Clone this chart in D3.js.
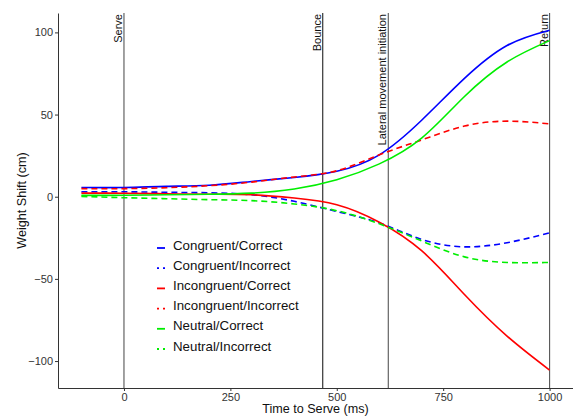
<!DOCTYPE html>
<html>
<head>
<meta charset="utf-8">
<script src="https://cdn.jsdelivr.net/npm/d3@7"></script>
<style>
  body { margin: 0; background: #fff; }
  svg { display: block; font-family: "Liberation Sans", Arial, sans-serif; }
  .axis text { fill: #333; font-size: 11px; }
  .axis path, .axis line { stroke: #333; }
</style>
</head>
<body>
<div id="chart"></div>
<script>
// time points (ms relative to serve)
const times = [-100, 0, 100, 200, 300, 400, 500, 600, 700, 800, 900, 1000];

// weight shift per condition
const congruentCorrect = [5.6, 5.6, 6.3, 7, 9.3, 11.7, 15.5, 25.5, 46.7, 72, 92, 101.3];
const congruentIncorrect = [3, 3, 2.7, 2.4, 1.2, -2.8, -9, -16, -26, -30.5, -28, -22];
const incongruentCorrect = [2.2, 2.1, 1.8, 1.5, 1.2, -0.8, -4.9, -15.5, -33, -59.5, -84.8, -105.5];
const incongruentIncorrect = [4.9, 4.9, 5.5, 6.7, 8.9, 12, 15.8, 25.5, 34.6, 43, 46, 44.3];
const neutralCorrect = [0.8, 0.9, 1.2, 1.5, 2.2, 4.7, 10.3, 20, 35.8, 61, 82, 95];
const neutralIncorrect = [0.2, -0.6, -1.2, -1.8, -2.4, -4.4, -8.5, -16.5, -27, -36.6, -40, -40];

const seriesNames = ["Congruent/Correct", "Congruent/Incorrect", "Incongruent/Correct",
  "Incongruent/Incorrect", "Neutral/Correct", "Neutral/Incorrect"];
const seriesValues = [congruentCorrect, congruentIncorrect, incongruentCorrect,
  incongruentIncorrect, neutralCorrect, neutralIncorrect];

// event markers
const eventNames = ["Serve", "Bounce", "Lateral movement initiation", "Return"];
const eventTimes = [0, 467, 621, 1000];

const xTicks = [0, 250, 500, 750, 1000];
const yTicks = [-100, -50, 0, 50, 100];

const width = 573, height = 417;
const margin = { top: 13, right: 0, bottom: 29, left: 58 };

const svg = d3.select("#chart").append("svg")
  .attr("width", width).attr("height", height);

const x = d3.scaleLinear().domain([-155, 1055]).range([margin.left, width - margin.right]);
const y = d3.scaleLinear().domain([-116.4, 111.8]).range([height - margin.bottom, margin.top]);

const colorFor = name => name.startsWith("Congruent") ? "#0000ff"
  : name.startsWith("Incongruent") ? "#ff0000" : "#00ee00";
const isDashed = name => name.endsWith("Incorrect");

// event lines + labels
const events = svg.append("g");
eventTimes.forEach((t, i) => {
  events.append("line")
    .attr("x1", x(t)).attr("x2", x(t))
    .attr("y1", margin.top).attr("y2", height - margin.bottom)
    .attr("stroke", i === 1 ? "#222" : "#555").attr("stroke-width", 1.1);
  events.append("text")
    .attr("transform", `translate(${x(t) - 2},${margin.top + 1}) rotate(-90)`)
    .attr("text-anchor", "end")
    .attr("font-size", 11)
    .attr("fill", "#111")
    .text(eventNames[i]);
});

// lines
const line = d3.line()
  .x((d, i) => x(times[i]))
  .y(d => y(d))
  .curve(d3.curveNatural);

seriesNames.forEach((name, k) => {
  svg.append("path")
    .datum(seriesValues[k])
    .attr("fill", "none")
    .attr("stroke", colorFor(name))
    .attr("stroke-width", 1.6)
    .attr("stroke-dasharray", isDashed(name) ? "6,4" : null)
    .attr("d", line);
});

// axes
svg.append("g").attr("class", "axis")
  .attr("transform", `translate(0,${height - margin.bottom})`)
  .call(d3.axisBottom(x).tickValues(xTicks).tickFormat(d3.format("d"))
    .tickSize(3).tickPadding(2).tickSizeOuter(0));

svg.append("g").attr("class", "axis")
  .attr("transform", `translate(${margin.left},0)`)
  .call(d3.axisLeft(y).tickValues(yTicks).tickFormat(d3.format("d"))
    .tickSize(3).tickPadding(2).tickSizeOuter(0));

svg.selectAll(".axis text").attr("font-size", 11).attr("font-family", null);

// axis titles
svg.append("text")
  .attr("x", (margin.left + width - margin.right) / 2)
  .attr("y", height - 4)
  .attr("text-anchor", "middle")
  .attr("font-size", 12.6)
  .attr("fill", "#111")
  .text("Time to Serve (ms)");

svg.append("text")
  .attr("transform", `translate(26,${(margin.top + height - margin.bottom) / 2}) rotate(-90)`)
  .attr("text-anchor", "middle")
  .attr("font-size", 12.6)
  .attr("fill", "#111")
  .text("Weight Shift (cm)");

// legend
const legend = svg.append("g").attr("transform", "translate(157,245)");
seriesNames.forEach((name, k) => {
  const row = legend.append("g").attr("transform", `translate(0,${k * 20.2})`);
  row.append("line")
    .attr("x1", 0).attr("x2", 8).attr("y1", 3).attr("y2", 3)
    .attr("stroke", colorFor(name))
    .attr("stroke-width", 1.8)
    .attr("stroke-dasharray", isDashed(name) ? "2,4" : null);
  row.append("text")
    .attr("x", 16).attr("y", 0)
    .attr("dy", "0.35em")
    .attr("font-size", 13.3)
    .attr("fill", "#111")
    .text(name);
});
</script>
</body>
</html>
